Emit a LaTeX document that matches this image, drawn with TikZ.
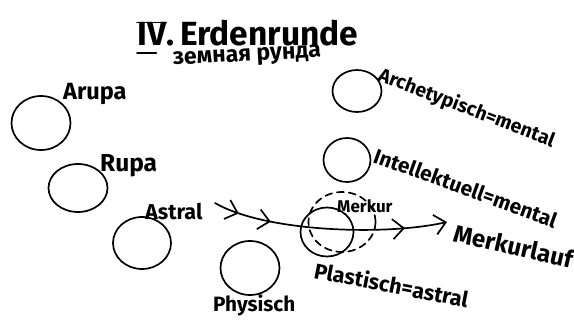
\documentclass[tikz,border=0pt]{standalone}
\usepackage{fontspec}
\setmainfont{Fira Sans}
\usetikzlibrary{arrows.meta, decorations.markings, shapes.geometric}
\tikzset{
  planet/.style={draw, ellipse, line width=1.7pt, inner sep=0pt},
  hand/.style={inner sep=0pt, anchor=base west},
  barb/.tip={Straight Barb[length=11pt, width=20pt, line width=1.7pt]}
}

\begin{document}
\begin{tikzpicture}[x=1pt, y=-1pt, line cap=round]
        \useasboundingbox (0,0) rectangle (574,323);
        % Title with the barred numeral
        \node[hand, font=\bfseries\fontsize{33.5}{33.5}\selectfont] (numeral) at (137,46) {IV};
        \node[hand, font=\bfseries\fontsize{33.5}{33.5}\selectfont] (title) at (numeral.base east) {.\,Erdenrunde};
        \draw[line width=1.7pt] (numeral.north west) -- (numeral.north east);
        \draw[line width=1.7pt] ([yshift=-7pt]numeral.south west) -- ([yshift=-7pt, xshift=-10pt]numeral.south east);
        \node[hand, rotate=3, font=\bfseries\fontsize{23}{23}\selectfont] (subtitle) at (173,65) {земная рунда};
        % Planes as circles
        \foreach \name/\x/\y/\w/\h in {arupa/41/123/59/54, rupa/78/188/59/48, astral/142/243/58/52,
            physisch/250/268/59/54, archetyp/357/91/49/42, intellekt/347/160/47/44, plastisch/327/232/53/49} {
          \node[planet, minimum width=\w pt, minimum height=\h pt] (\name) at (\x,\y) {};
        }
        \node[planet, dash pattern=on 7pt off 5pt, minimum width=67pt, minimum height=60pt] (merkur) at (342,222) {};
        % Labels
        \foreach \name/\x/\y/\ang/\sz/\txt in {arupa lbl/63/100/0/23.5/Arupa, rupa lbl/100/172/0/24.5/Rupa,
            astral lbl/145/220/0/21.5/Astral, physisch lbl/213/312/0/20.7/Physisch, merkur lbl/337/213/0/17/Merkur,
            plastisch lbl/313/278/-11/21.6/Plastisch=astral, archetyp lbl/377/80/-21/19.5/Archetypisch=mental,
            intellekt lbl/372/162/-20/20.8/Intellektuell=mental, lauf lbl/452/241/-13/24.2/Merkurlauf} {
          \node[hand, rotate=\ang, font=\bfseries\fontsize{\sz}{\sz}\selectfont] (\name) at (\x,\y) {\txt};
        }
        % Path of Mercury
        \coordinate (lauf start) at (215,203);
        \coordinate (lauf end) at (447,222);
        \draw[line width=1.7pt, -barb, postaction={decorate}, decoration={markings,
            mark=at position 0.11 with {\arrow{barb}}, mark=at position 0.25 with {\arrow{barb}},
            mark=at position 0.82 with {\arrow{barb}}}]
          (lauf start) .. controls (265,232) and (385,236) .. (lauf end);
      \end{tikzpicture}
\end{document}
